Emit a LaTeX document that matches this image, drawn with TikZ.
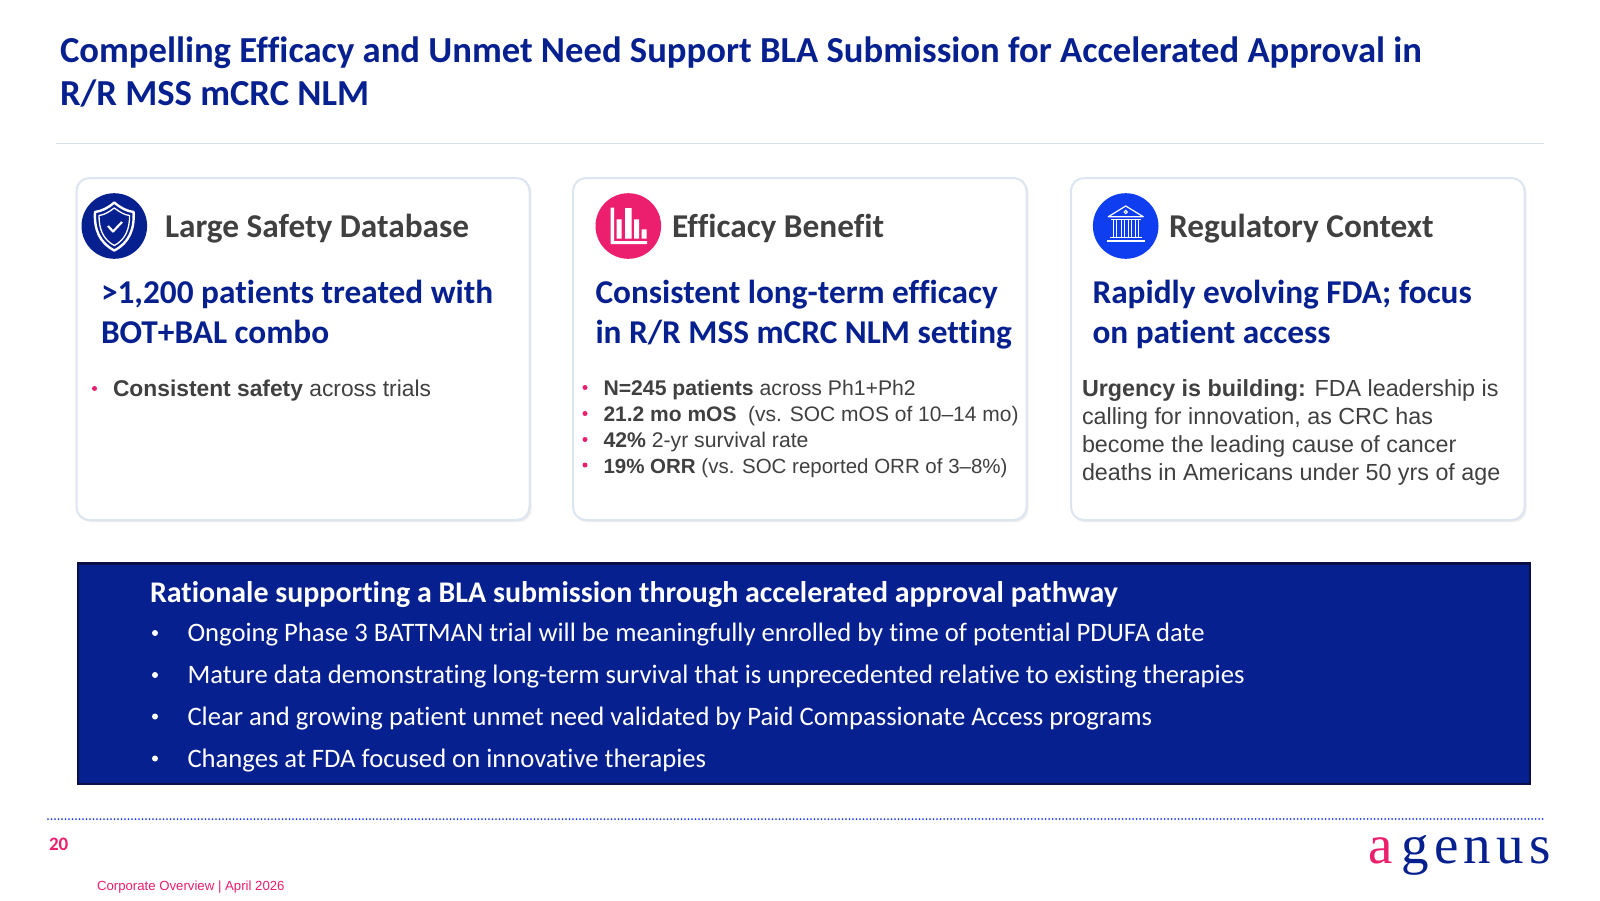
\documentclass[tikz,border=0pt]{standalone}
\usepackage{fontspec}
\setmainfont{Carlito}[Ligatures=NoCommon]
\newcommand{\semi}{\bfseries}
\newfontfamily\rob{Liberation Sans}
\newfontfamily\logofont{Liberation Serif}
\definecolor{navy}{HTML}{07208F}
\definecolor{pinkc}{HTML}{EC1E6E}
\definecolor{greyt}{HTML}{404040}
\definecolor{bluei}{HTML}{0F3DF0}
\definecolor{cardl}{HTML}{DDE5F1}
\definecolor{rulel}{HTML}{D5E0EC}
\definecolor{dots}{HTML}{1E3DF0}
\tikzset{
  x=1pt,y=-1pt,
  lbl/.style={anchor=base west,inner sep=0pt,outer sep=0pt},
  titlet/.style={lbl,text=navy,font=\semi\fontsize{36.65}{40}\selectfont},
  headt/.style={lbl,text=greyt,font=\semi\fontsize{33.3}{36}\selectfont},
  subt/.style={lbl,text=navy,font=\semi\fontsize{33.3}{36}\selectfont},
  bodya/.style={lbl,text=greyt,font=\rob\fontsize{22.8}{28}\selectfont},
  bodyb/.style={lbl,text=greyt,font=\rob\fontsize{21.2}{28}\selectfont},
  bodybb/.style={lbl,text=greyt,font=\rob\fontsize{21}{28}\selectfont},
  bodybc/.style={lbl,text=greyt,font=\rob\fontsize{20.5}{28}\selectfont},
  bodyc/.style={lbl,text=greyt,font=\rob\fontsize{23.3}{28}\selectfont},
  panelh/.style={lbl,text=white,font=\semi\fontsize{29.95}{32}\selectfont},
  panelb/.style={lbl,text=white,font=\fontsize{26.65}{30}\selectfont},
  card/.style={draw=cardl,line width=2pt,fill=white,rounded corners=13pt},
  pdot/.style={fill=pinkc,circle,inner sep=0pt,minimum size=5pt},
  wdot/.style={fill=white,circle,inner sep=0pt,minimum size=6pt},
  wline/.style={draw=white,line width=1.6pt,line join=round},
}
\begin{document}
\begin{tikzpicture}
\useasboundingbox (0,0) rectangle (1600,900);
\fill[white] (0,0) rectangle (1600,900);
% title
\node[titlet] (t1) at (60,62) {Compelling Efficacy and Unmet Need Support BLA Submission for Accelerated Approval in};
\node[titlet] (t2) at (60,105.5) {R/R MSS mCRC NLM};
\draw[rulel,line width=1.2pt] (56,143.5) -- (1544,143.5);
% cards
\foreach \xa/\xb in {76.5/529.5,573/1026.5,1071/1524.5}{
  \fill[black!7,rounded corners=13pt] (\xa+1,179) rectangle (\xb+2,522);
  \path[card] (\xa,178) rectangle (\xb,520);
}
% icon 1
\fill[navy] (114.3,226) circle (32.8);
\path[wline,line width=2.4pt] (114.3,202.5) .. controls (108,208) and (102,211) .. (95,212) .. controls (94,230) and (100,243) .. (114.3,250.5) .. controls (128.6,243) and (134.6,230) .. (133.6,212) .. controls (126.6,211) and (120.6,208) .. (114.3,202.5) -- cycle;
\path[wline,line width=1.3pt] (114.3,208) .. controls (109,212) and (104,215) .. (99,215.5) .. controls (99,229) and (103,239.5) .. (114.3,245.5) .. controls (125.6,239.5) and (129.6,229) .. (129.6,215.5) .. controls (124.6,215) and (119.6,212) .. (114.3,208) -- cycle;
\path[wline,line width=2.2pt] (108,226) -- (113,231.5) -- (122,222);
% icon 2
\fill[pinkc] (628.3,226) circle (32.8);
\fill[white] (610.7,207.7) rectangle (614,244) (610.7,241) rectangle (647,244)
  (616.7,219.3) rectangle (621.7,238.7) (625,208) rectangle (631.7,238.7)
  (634,219.3) rectangle (639,238.7) (641.7,229.3) rectangle (646.7,238.7);
% icon 3
\fill[bluei] (1125.7,226) circle (32.8);
\path[wline,line width=1.2pt] (1125.7,206) -- (1108.3,216.7) -- (1143.3,216.7) -- cycle;
\draw[white,line width=1pt] (1125.7,212) circle (1.6);
\path[wline,line width=1.2pt] (1111,219.5) -- (1140.5,219.5) (1110,237.5) -- (1141.5,237.5);
\path[wline,line width=1.2pt] (1106.7,241) -- (1144.5,241);
\foreach \cx in {1113,1116.5,1121,1124.5,1128,1131.5,1135,1138.5}{\draw[white,line width=1pt] (\cx,220) -- (\cx,237);}
% card 1
\node[headt] (h1) at (165,237.5) {Large Safety Database};
\node[subt] (s1a) at (101,303) {>1,200 patients treated with};
\node[subt] (s1b) at (101,343) {BOT+BAL combo};
\node[pdot] (d1) at (94.5,388.5) {};
\node[bodya] (b1) at (113,396.5) {\textbf{Consistent safety} across trials};
% card 2
\node[headt] (h2) at (672,237.5) {Efficacy Benefit};
\node[subt] (s2a) at (595.5,303) {Consistent long-term efficacy};
\node[subt] (s2b) at (595.5,343) {in R/R MSS mCRC NLM setting};
\node[pdot] (d2a) at (585,387.5) {};
\node[pdot] (d2b) at (585,413.5) {};
\node[pdot] (d2c) at (585,439.5) {};
\node[pdot] (d2d) at (585,465) {};
\node[bodyb] (b2a) at (603.5,395) {\textbf{N=245 patients} across Ph1+Ph2};
\node[bodybb] (b2b) at (603.5,421) {\textbf{21.2 mo mOS}\ \ (vs. SOC mOS of 10–14 mo)};
\node[bodyb] (b2c) at (603.5,447) {\textbf{42\%} 2-yr survival rate};
\node[bodybc] (b2d) at (603.5,473) {\textbf{19\% ORR} (vs. SOC reported ORR of 3–8\%)};
% card 3
\node[headt] (h3) at (1169,237.5) {Regulatory Context};
\node[subt] (s3a) at (1092.5,303) {Rapidly evolving FDA; focus};
\node[subt] (s3b) at (1092.5,343) {on patient access};
\node[bodyc] (b3a) at (1082,396.5) {\textbf{Urgency is building:} FDA leadership is};
\node[bodyc] (b3b) at (1082,424) {calling for innovation, as CRC has};
\node[bodyc] (b3c) at (1082,452) {become the leading cause of cancer};
\node[bodyc] (b3d) at (1082,480) {deaths in Americans under 50 yrs of age};
% panel
\path[fill=navy,draw={rgb,255:red,10;green,16;blue,70},line width=2.6pt] (78,563.5) rectangle (1530,784);
\node[panelh] (ph) at (150,602) {Rationale supporting a BLA submission through accelerated approval pathway};
\node[wdot] (pd1) at (155,633) {};
\node[wdot] (pd2) at (155,675) {};
\node[wdot] (pd3) at (155,716.5) {};
\node[wdot] (pd4) at (155,758.5) {};
\node[panelb] (p1) at (187.5,641.5) {Ongoing Phase 3 BATTMAN trial will be meaningfully enrolled by time of potential PDUFA date};
\node[panelb] (p2) at (187.5,683.5) {Mature data demonstrating long-term survival that is unprecedented relative to existing therapies};
\node[panelb] (p3) at (187.5,725) {Clear and growing patient unmet need validated by Paid Compassionate Access programs};
\node[panelb] (p4) at (187.5,767) {Changes at FDA focused on innovative therapies};
% footer
\draw[dots,line width=2pt,line cap=round,dash pattern=on 0pt off 3.5pt] (48,819) -- (1546,819);
\node[lbl,text=pinkc,font=\semi\fontsize{19}{20}\selectfont] (pg) at (49,850) {20};
\node[lbl,text=pinkc,font=\rob\fontsize{13.2}{16}\selectfont] (cv) at (97,890) {Corporate Overview | April 2026};
\node[lbl,text=pinkc,font=\logofont\fontsize{55}{60}\selectfont] (lga) at (1368,863) {a};
\node[lbl,text=navy,font=\logofont\fontsize{55}{60}\selectfont] (lgb) at (1401,863) {\addfontfeature{LetterSpace=10}genus};
\end{tikzpicture}
\end{document}
